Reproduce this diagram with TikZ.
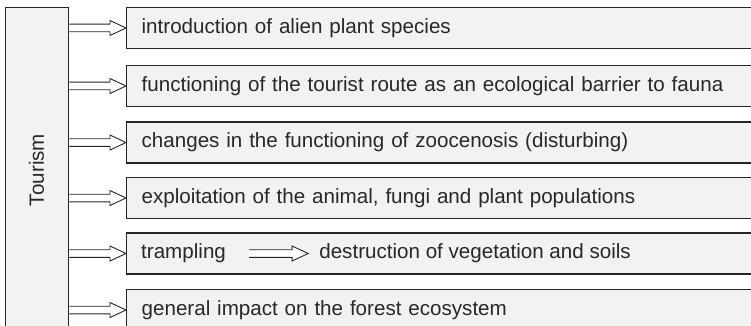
\documentclass[tikz,border=0pt]{standalone}
\usepackage{fontspec}
\setmainfont{Liberation Sans}
\usepackage{tikz}
\usetikzlibrary{arrows.meta,positioning,calc}
\definecolor{boxgray}{RGB}{242,242,242}
\definecolor{edgegray}{RGB}{38,38,38}
\definecolor{textgray}{RGB}{40,40,40}

\begin{document}
\begin{tikzpicture}[x=1pt, y=-1pt,
        every node/.style={font=\fontsize{20.6}{25}\selectfont, text=textgray},
        srcbox/.style={rectangle, draw=edgegray, fill=boxgray, line width=1.3pt, anchor=north west, minimum width=63pt, minimum height=330pt, inner sep=0pt},
        rowbox/.style={rectangle, draw=edgegray, fill=boxgray, line width=1.3pt, anchor=west, minimum height=41pt, inner xsep=15pt, text width=645pt, align=left},
        plain/.style={inner sep=0pt, anchor=west},
        feed/.style={draw=edgegray, fill=white, line width=0.9pt,
            to path={let \p1=(\tikztostart), \p2=(\tikztotarget) in
                (\x1,\y2+3.8pt) -- (\x2-16pt,\y2+3.8pt) -- (\x2-16pt,\y2+7.5pt) -- (\x2,\y2)
                -- (\x2-16pt,\y2-7.5pt) -- (\x2-16pt,\y2-3.8pt) -- (\x1,\y2-3.8pt)}}
    ]
    \useasboundingbox (0,0) rectangle (751,326);
    \node[srcbox] (tour) at (5,7) {};
    \node[rotate=90] (tlabel) at (36.5,170) {Tourism};
    \node[rowbox] (r1) at (126,28) {introduction of alien plant species};
    \node[rowbox] (r2) at (126,86) {functioning of the tourist route as an ecological barrier to fauna};
    \node[rowbox] (r3) at (126,142.5) {changes in the functioning of zoocenosis (disturbing)};
    \node[rowbox] (r4) at (126,198) {exploitation of the animal, fungi and plant populations};
    \node[rowbox] (r5) at (126,253.5) {};
    \node[rowbox] (r6) at (126,310) {general impact on the forest ecosystem};
    % trampling row
    \node[plain] (tr) at ([xshift=15pt]r5.west) {trampling};
    \node[plain, right=93pt of tr] (de) {destruction of vegetation and soils};
    \draw[feed] ([xshift=23pt]tr.east) to ([xshift=-11pt]de.west);
    % arrows from tourism
    \foreach \r in {r1,r2,r3,r4,r5,r6}
        \draw[feed] (tour.east |- \r.west) to (\r.west);
\end{tikzpicture}
\end{document}
